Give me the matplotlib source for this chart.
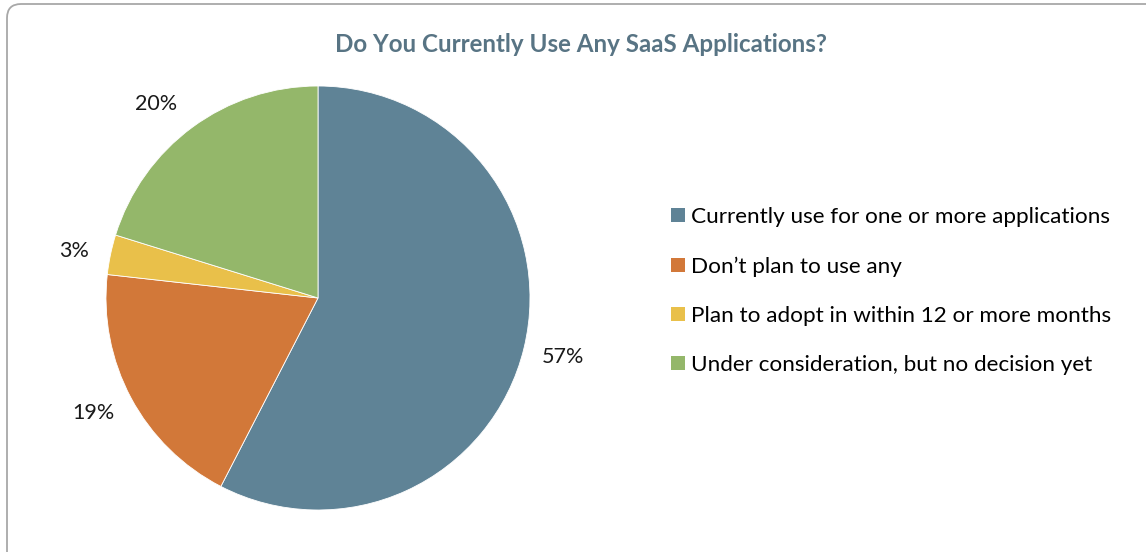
import numpy as np
import matplotlib.pyplot as plt
from matplotlib.patches import FancyBboxPatch, Patch
from matplotlib.transforms import IdentityTransform

# Survey answers (percent of respondents)
categories = [
    'Currently use for one or more applications',
    "Don\u2019t plan to use any",
    'Plan to adopt in within 12 or more months',
    'Under consideration, but no decision yet',
]
shares = [57, 19, 3, 20]
colors = ['#5F8396', '#D27839', '#E9C04A', '#94B76A']
# small angular nudges (degrees) for the outside labels
label_nudge = [0.0, -1.0, 1.0, 3.5]

W, H = 1146, 552
fig = plt.figure(figsize=(W / 100, H / 100), dpi=100)

# rounded frame around the chart area (pixel coords, origin bottom-left)
frame = FancyBboxPatch((7, -20), 1160, H - 4 + 20, boxstyle='round,pad=0,rounding_size=14',
                       transform=IdentityTransform(), facecolor='none',
                       edgecolor='#A8A8A8', linewidth=1.3)
fig.patches.append(frame)

# pie placed by pixel centre and radius
cx, cy, r = 318, 298, 212
ax = fig.add_axes([(cx - r) / W, (H - cy - r) / H, 2 * r / W, 2 * r / H])
wedges, _ = ax.pie(shares, colors=colors, startangle=90, counterclock=False,
                   wedgeprops=dict(linewidth=0.6, edgecolor='white'))
for w, v, d in zip(wedges, shares, label_nudge):
    ang = np.deg2rad((w.theta1 + w.theta2) / 2 + d)
    dist = 1.17 if v < 5 else 1.19
    ax.text(dist * np.cos(ang), dist * np.sin(ang), f'{v}%', ha='center', va='center',
            fontsize=15.5, family='Lato', color='#1a1a1a')
ax.set_xlim(-1, 1)
ax.set_ylim(-1, 1)
ax.set_aspect('equal')
ax.axis('off')

fig.text(581 / W, 1 - 45 / H, 'Do You Currently Use Any SaaS Applications?',
         ha='center', va='center', fontsize=17.4, fontweight='bold',
         family='Lato', color='#587484')

handles = [Patch(facecolor=c, edgecolor='none') for c in colors]
fig.legend(handles, categories, loc='upper left',
           bbox_to_anchor=(671 / W, 1 - 207 / H), frameon=False,
           prop=dict(family='Lato', size=16.2), handlelength=0.6, handleheight=0.6,
           handletextpad=0.3, labelspacing=1.3, borderpad=0, borderaxespad=0)

plt.savefig('out.png', dpi=100)
